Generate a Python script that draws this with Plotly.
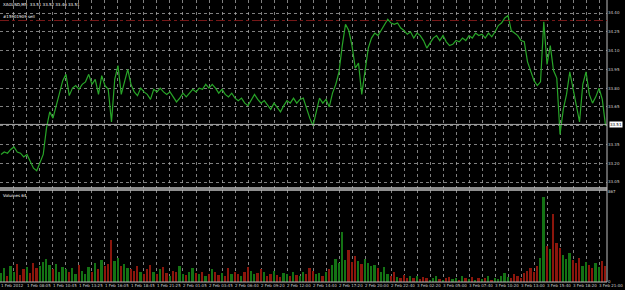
import plotly.graph_objects as go

# ---------------- data ----------------
bar_step = 4          # each sampled point = 4 five-minute bars
label_step = 32       # one time label every 32 bars
price = [
    33.27, 33.29, 33.28, 33.31, 33.33, 33.29, 33.28, 33.25, 33.27, 33.21, 33.16, 33.14, 33.20,
    33.27, 33.48, 33.61, 33.56, 33.66, 33.74, 33.86, 33.91,
    33.74, 33.80, 33.82, 33.79, 33.83, 33.85, 33.91, 33.83, 33.87, 33.75, 33.90, 33.82, 33.79,
    33.53, 33.87, 33.98, 33.75, 33.85, 33.95, 33.83,
    33.77, 33.74, 33.80, 33.77, 33.75, 33.71, 33.79, 33.77, 33.80, 33.77,
    33.75, 33.77, 33.73, 33.69, 33.72, 33.76, 33.73, 33.76, 33.79, 33.77,
    33.80, 33.79, 33.83, 33.80, 33.83, 33.80, 33.76, 33.79, 33.75, 33.73,
    33.76, 33.72, 33.70, 33.72, 33.68, 33.66, 33.71, 33.75, 33.71, 33.68,
    33.70, 33.66, 33.63, 33.68, 33.64, 33.61, 33.66, 33.70, 33.68, 33.72,
    33.68, 33.71, 33.72, 33.63, 33.56, 33.50, 33.61, 33.72, 33.68, 33.71,
    33.65, 33.76, 33.83, 33.93, 34.14, 34.31, 34.26, 34.14, 33.96, 34.00, 33.75, 33.94, 34.12, 34.20, 34.24,
    34.22, 34.26, 34.30, 34.35, 34.32, 34.31, 34.32, 34.28, 34.26, 34.23, 34.25, 34.20, 34.24, 34.22, 34.18,
    34.12, 34.16, 34.20, 34.22, 34.18, 34.22, 34.17, 34.14, 34.15, 34.18,
    34.17, 34.20, 34.18, 34.22, 34.20, 34.24, 34.22, 34.23, 34.20, 34.24,
    34.21, 34.25, 34.30, 34.32, 34.36, 34.38, 34.26, 34.24, 34.22, 34.18,
    34.17, 34.01, 33.93, 33.86, 33.82, 33.85,
    34.33, 33.99, 34.14, 33.94, 33.88, 33.43,
    33.63, 33.75, 33.93, 33.80, 33.67, 33.53, 33.83, 33.93, 33.75, 33.68, 33.73, 33.80, 33.71, 33.50,
]
volume = [
    90, 130, 60, 150, 100, 170, 70, 120, 140, 90, 180, 130, 150,
    190, 220, 160, 120, 170, 100, 140, 120,
    100, 130, 80, 160, 110, 80, 140, 100, 180, 120, 210, 150, 170,
    400, 200, 230, 150, 170, 130, 120,
    110, 150, 100, 80, 120, 160, 100, 80, 120, 140, 90, 60, 110, 100, 150, 80, 70, 100, 130, 90,
    80, 100, 60, 80, 120, 100, 70, 90, 60, 130, 80, 100, 80, 60, 100, 140, 110, 80, 90, 120,
    100, 60, 80, 110, 70, 50, 90, 80, 60, 100, 70, 60, 100, 80, 130, 110, 80, 90, 60, 100,
    120, 160, 220, 180, 480, 210, 310, 190, 250, 200, 170, 220, 180, 150, 160,
    130, 100, 140, 80, 60, 100, 50, 40, 70, 35, 55, 40, 60, 30, 50,
    35, 20, 40, 55, 30, 20, 35, 50, 30, 40, 20, 60, 35, 30, 50, 20, 40, 30, 35, 55,
    20, 40, 30, 60, 90, 50, 35, 80, 55, 40,
    90, 110, 130, 100, 150, 230,
    820, 350, 320, 650, 380, 330,
    260, 220, 280, 210, 180, 230, 150, 190, 160, 130, 180, 140, 200, 150,
]
time_labels = [
    "1 Feb 2012", "1 Feb 08:05", "1 Feb 10:45", "1 Feb 13:25", "1 Feb 16:05", "1 Feb 18:45",
    "1 Feb 21:25", "2 Feb 01:05", "2 Feb 03:45", "2 Feb 06:40", "2 Feb 09:20", "2 Feb 12:00",
    "2 Feb 14:40", "2 Feb 17:20", "2 Feb 20:00", "2 Feb 22:40", "3 Feb 02:20", "3 Feb 05:00",
    "3 Feb 07:40", "3 Feb 10:20", "3 Feb 13:00", "3 Feb 15:40", "3 Feb 18:20", "3 Feb 21:00",
]
price_levels = [33.05, 33.20, 33.35, 33.50, 33.65, 33.80, 33.95, 34.10, 34.25, 34.40]
current_price = 33.51
order_price = 34.34
volume_max_label = 867
header_text = "XAGUSD,M5  33.51 33.52 33.46 33.51"
order_text = "#15901909 sell"
volume_text = "Volumes 64"

# ---------------- figure ----------------
x = [i * bar_step for i in range(len(price))]
GREEN = "rgb(40,165,40)"
VGREEN = "rgb(20,115,20)"
VRED = "rgb(140,22,12)"
vol_colors = [VGREEN] + [VGREEN if price[i] >= price[i - 1] else VRED for i in range(1, len(price))]

fig = go.Figure()
fig.add_trace(go.Scatter(x=x, y=price, mode="lines", line=dict(color=GREEN, width=1.2),
                         xaxis="x", yaxis="y", showlegend=False, hoverinfo="skip"))
fig.add_trace(go.Bar(x=x, y=volume, marker=dict(color=vol_colors, line=dict(width=0)),
                     width=2.2, xaxis="x2", yaxis="y2", showlegend=False, hoverinfo="skip"))

tickvals = [i * label_step for i in range(len(time_labels))]
grid_col = "rgba(170,170,170,0.75)"
axis_font = dict(family="DejaVu Sans", size=4, color="#d0d0d0")
xr = [-1.2, 745.8]

common_x = dict(range=xr, showgrid=True, gridcolor=grid_col, griddash="dot", gridwidth=1,
                zeroline=False, tickmode="array", tickvals=tickvals,
                minor=dict(tickmode="array", tickvals=[v + 16 for v in tickvals],
                           showgrid=True, gridcolor=grid_col, griddash="dot", gridwidth=1, ticks=""),
                ticks="", showline=False)

fig.update_layout(
    width=625, height=290,
    margin=dict(l=0, r=18, t=0, b=8),
    paper_bgcolor="black", plot_bgcolor="black",
    bargap=0,
    font=axis_font,
    xaxis=dict(**common_x, domain=[0, 1], anchor="y", showticklabels=False),
    xaxis2=dict(**common_x, domain=[0, 1], anchor="y2", matches="x",
                ticktext=time_labels, showticklabels=True, ticklabelposition="outside right",
                tickangle=0, tickfont=axis_font),
    yaxis=dict(domain=[0.3333, 1], range=[33.002, 34.504], side="right",
               tickmode="array", tickvals=price_levels,
               ticktext=["" if abs(v - current_price) < 0.03 else f"{v:.2f}" for v in price_levels],
               showgrid=True, gridcolor=grid_col, griddash="dot", zeroline=False,
               ticks="", tickfont=axis_font),
    yaxis2=dict(domain=[0, 0.326], range=[0, 886], side="right",
                tickmode="array", tickvals=[0, volume_max_label],
                ticktext=["0", str(volume_max_label)],
                showgrid=False, zeroline=False, ticks="", tickfont=axis_font),
)

# frame lines
line_col = "rgb(190,190,190)"
fig.add_shape(type="line", xref="paper", yref="paper", x0=1, x1=1, y0=0, y1=1,
              line=dict(color=line_col, width=1))
fig.add_shape(type="line", xref="paper", yref="paper", x0=0, x1=1, y0=0.3333, y1=0.3333,
              line=dict(color=line_col, width=1.5))
fig.add_shape(type="line", xref="paper", yref="paper", x0=0, x1=1, y0=0.326, y1=0.326,
              line=dict(color=line_col, width=1.5))
fig.add_shape(type="line", xref="paper", yref="paper", x0=0, x1=1, y0=0, y1=0,
              line=dict(color=line_col, width=1))

# current price line and order line
fig.add_shape(type="line", xref="paper", yref="y", x0=0, x1=1, y0=current_price, y1=current_price,
              line=dict(color="rgb(170,170,170)", width=1))
fig.add_shape(type="line", xref="paper", yref="y", x0=0, x1=1, y0=order_price, y1=order_price,
              line=dict(color="rgb(120,25,25)", width=1, dash="dashdot"))

# annotations
fig.add_annotation(xref="paper", yref="y", x=1.003, y=current_price, xanchor="left",
                   text=f"{current_price:.2f}", showarrow=False, bgcolor="white",
                   font=dict(family="DejaVu Sans", size=4, color="black"), borderpad=0)
fig.add_annotation(xref="paper", yref="paper", x=0.002, y=1.0, xanchor="left", yanchor="top",
                   text=header_text, showarrow=False,
                   font=dict(family="DejaVu Sans", size=4, color="white"))
fig.add_annotation(xref="paper", yref="y", x=0.002, y=order_price, xanchor="left", yanchor="bottom",
                   text=order_text, showarrow=False,
                   font=dict(family="DejaVu Sans", size=4, color="white"))
fig.add_annotation(xref="paper", yref="paper", x=0.002, y=0.322, xanchor="left", yanchor="top",
                   text=volume_text, showarrow=False,
                   font=dict(family="DejaVu Sans", size=4, color="white"))

fig.write_html("out.html")
